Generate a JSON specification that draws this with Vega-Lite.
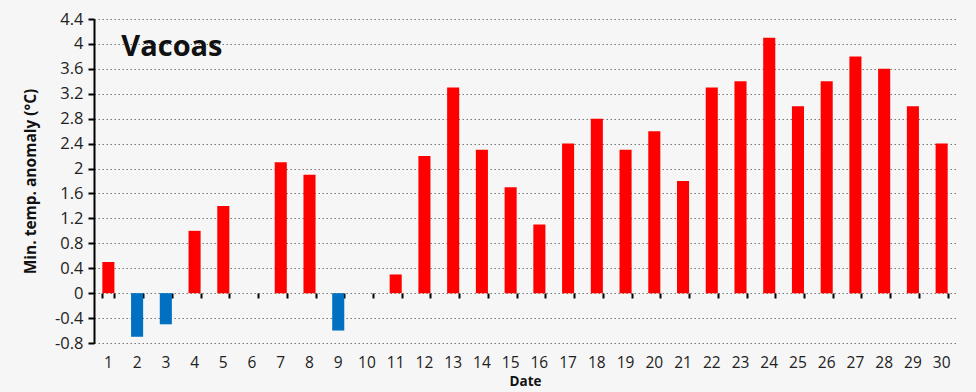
{
  "$schema": "https://vega.github.io/schema/vega-lite/v6.json",
  "width": 862,
  "height": 324,
  "autosize": {"type": "none"},
  "padding": {"left": 94, "top": 19, "right": 20, "bottom": 49},
  "background": "#f6f6f6",
  "config": {"font": "Open Sans", "view": {"stroke": null}},
  "data": {
    "values": [
      {"date": 1, "value": 0.5}, {"date": 2, "value": -0.7}, {"date": 3, "value": -0.5},
      {"date": 4, "value": 1.0}, {"date": 5, "value": 1.4}, {"date": 6, "value": 0},
      {"date": 7, "value": 2.1}, {"date": 8, "value": 1.9}, {"date": 9, "value": -0.6},
      {"date": 10, "value": 0}, {"date": 11, "value": 0.3}, {"date": 12, "value": 2.2},
      {"date": 13, "value": 3.3}, {"date": 14, "value": 2.3}, {"date": 15, "value": 1.7},
      {"date": 16, "value": 1.1}, {"date": 17, "value": 2.4}, {"date": 18, "value": 2.8},
      {"date": 19, "value": 2.3}, {"date": 20, "value": 2.6}, {"date": 21, "value": 1.8},
      {"date": 22, "value": 3.3}, {"date": 23, "value": 3.4}, {"date": 24, "value": 4.1},
      {"date": 25, "value": 3.0}, {"date": 26, "value": 3.4}, {"date": 27, "value": 3.8},
      {"date": 28, "value": 3.6}, {"date": 29, "value": 3.0}, {"date": 30, "value": 2.4}
    ]
  },
  "resolve": {"axis": {"x": "independent"}},
  "layer": [
    {
      "mark": {"type": "bar"},
      "encoding": {
        "x": {
          "field": "date", "type": "ordinal", "sort": null,
          "scale": {"paddingInner": 0.58, "paddingOuter": 0.29},
          "axis": {
            "orient": "bottom",
            "title": "Date", "labelAngle": 0, "domain": false, "ticks": false,
            "labelFontSize": 15.5, "labelColor": "#222", "labelPadding": 12,
            "titleFontSize": 13.5, "titleFontWeight": "bold", "titleColor": "#111", "titlePadding": 4
          }
        },
        "y": {
          "field": "value", "type": "quantitative",
          "scale": {"domain": [-0.8, 4.4], "nice": false, "zero": false},
          "axis": {
            "title": "Min. temp.  anomaly (°C)",
            "values": [-0.8, -0.4, 0, 0.4, 0.8, 1.2, 1.6, 2, 2.4, 2.8, 3.2, 3.6, 4, 4.4],
            "tickCount": 30,
            "labelExpr": "datum.value + ''",
            "labelOverlap": false, "labelBound": false, "labelFlush": false,
            "labelFontSize": 16.5, "labelColor": "#222", "labelPadding": 5,
            "domainColor": "black", "domainWidth": 2,
            "tickColor": "black", "tickWidth": 2, "tickSize": 6,
            "grid": true, "gridColor": "#777", "gridDash": [1.5, 2.5], "gridWidth": 1,
            "titleFontSize": 15.5, "titleFontWeight": "bold", "titleColor": "#111", "titlePadding": 16
          }
        },
        "color": {
          "condition": {"test": "datum.value < 0", "value": "#0070c0"},
          "value": "#ff0000"
        }
      }
    },
    {
      "mark": {"type": "rule", "color": "black", "strokeWidth": 2},
      "encoding": {
        "x": {
          "field": "date", "type": "ordinal", "sort": null,
          "axis": {
            "orient": "bottom",
            "title": null, "labels": false, "domain": false, "ticks": true,
            "tickBand": "extent", "tickColor": "black", "tickWidth": 2, "tickSize": 5,
            "offset": -50, "grid": false
          }
        },
        "y": {"datum": 0, "type": "quantitative"}
      }
    },
    {
      "data": {"values": [{"date": 1, "value": 4.0, "label": "Vacoas"}]},
      "mark": {"type": "text", "align": "left", "baseline": "middle", "fontSize": 29, "fontWeight": "bold", "color": "#111", "xOffset": 13, "yOffset": 3},
      "encoding": {
        "x": {"field": "date", "type": "ordinal", "axis": null},
        "y": {"field": "value", "type": "quantitative"},
        "text": {"field": "label"}
      }
    }
  ]
}
